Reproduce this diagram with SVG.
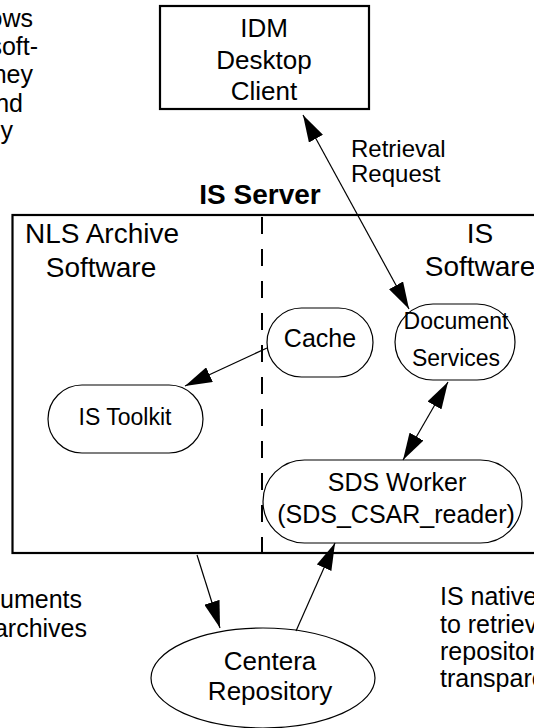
<svg xmlns="http://www.w3.org/2000/svg" width="534" height="728" viewBox="0 0 534 728">
<style>
text{font-family:"Liberation Sans",Arial,Helvetica,sans-serif;font-size:26px;fill:#000}
.c{text-anchor:middle}
.e{text-anchor:end}
.n{font-size:25px}
.b{font-weight:bold;font-size:28px}
.h{font-size:28px}
.r{font-size:24px}
.s{font-size:23px}
.node{fill:#fff;stroke:#000;stroke-width:1.2}
.thick{fill:none;stroke:#000;stroke-width:2.2}
.conn{fill:none;stroke:#000;stroke-width:1.2}
</style>
<defs>
<marker id="ah" viewBox="0 0 27 16" refX="27" refY="8" markerWidth="27" markerHeight="16" markerUnits="userSpaceOnUse" orient="auto-start-reverse">
<path d="M0,0 L27,8 L0,16 z" fill="#000"/>
</marker>
</defs>
<rect width="534" height="728" fill="#fff"/>
<g id="notes">
<text class="e n" x="33" y="27">ows</text>
<text class="e n" x="38" y="55">soft-</text>
<text class="e n" x="33" y="83">ney</text>
<text class="e n" x="23" y="112">nd</text>
<text class="e n" x="13" y="139">y</text>
<text class="e n" x="82" y="608">cuments</text>
<text class="e n" x="87" y="637">archives</text>
<text class="n" x="440" y="605">IS native</text>
<text class="n" x="440" y="633">to retrieve</text>
<text class="n" x="440" y="660">repositor</text>
<text class="n" x="440" y="687">transpare</text>
</g>
<g id="is-server">
<rect class="thick" x="12.5" y="215" width="540" height="338"/>
<line x1="262" y1="217" x2="262" y2="553" stroke="#000" stroke-width="2" stroke-dasharray="17 15"/>
<text class="c b" x="260" y="204">IS Server</text>
<text class="c h" x="102" y="243">NLS Archive</text>
<text class="c h" x="101" y="277">Software</text>
<text class="c h" x="480" y="243">IS</text>
<text class="c h" x="480" y="276">Software</text>
</g>
<g id="idm-client">
<rect class="thick" x="160" y="6" width="209" height="103"/>
<text class="c" x="264" y="37">IDM</text>
<text class="c" x="264" y="69">Desktop</text>
<text class="c" x="264" y="100">Client</text>
</g>
<g id="cache">
<rect class="node" x="267" y="308" width="106" height="69" rx="34.5"/>
<text class="c n" x="320" y="347">Cache</text>
</g>
<g id="document-services">
<rect class="node" x="395" y="304" width="120" height="76" rx="38"/>
<text class="c s" x="456" y="329">Document</text>
<text class="c s" x="456" y="366">Services</text>
</g>
<g id="is-toolkit">
<rect class="node" x="48" y="385" width="155" height="68" rx="34"/>
<text class="c s" x="125" y="425">IS Toolkit</text>
</g>
<g id="sds-worker">
<rect class="node" x="263" y="460" width="259" height="83" rx="41.5"/>
<text class="c n" x="397" y="491">SDS Worker</text>
<text class="c n" x="396" y="523">(SDS_CSAR_reader)</text>
</g>
<g id="centera">
<ellipse class="node" cx="263" cy="678" rx="112" ry="50"/>
<text class="c" x="270" y="670">Centera</text>
<text class="c" x="270" y="700">Repository</text>
</g>
<g id="connectors">
<line class="conn" x1="303" y1="115" x2="409" y2="309" marker-start="url(#ah)" marker-end="url(#ah)"/>
<text class="r" x="351" y="157">Retrieval</text>
<text class="r" x="351" y="182">Request</text>
<line class="conn" x1="267" y1="348" x2="185" y2="386" marker-end="url(#ah)"/>
<line class="conn" x1="448" y1="382" x2="403" y2="460" marker-start="url(#ah)" marker-end="url(#ah)"/>
<line class="conn" x1="197" y1="555" x2="220" y2="628" marker-end="url(#ah)"/>
<line class="conn" x1="296" y1="631" x2="335" y2="543" marker-end="url(#ah)"/>
</g>
</svg>
